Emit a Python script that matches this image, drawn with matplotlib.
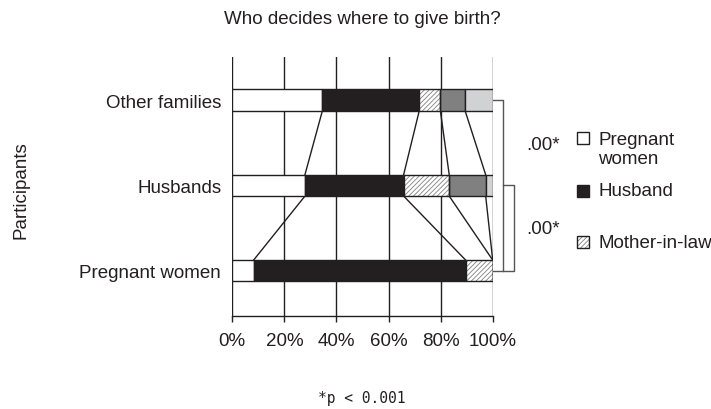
import matplotlib

matplotlib.use("Agg")
import matplotlib.pyplot as plt
import numpy as np
from matplotlib.patches import Rectangle

# who decides, share of answers (%) per participant group, bottom to top
categories = ["Pregnant women", "Husbands", "Other families"]
pregnant_women = [8.2, 27.9, 34.6]
husband = [81.4, 37.9, 37.2]
mother_in_law = [10.4, 17.5, 8.1]
other_dark = [0.0, 14.0, 9.5]
other_light = [0.0, 2.7, 10.6]
xticks = [0, 20, 40, 60, 80, 100]
xtick_labels = ["0%", "20%", "40%", "60%", "80%", "100%"]
legend_labels = ["Pregnant\nwomen", "Husband", "Mother-in-law"]
p_values = [".00*", ".00*"]
footnote = "*p < 0.001"

plt.rcParams["font.family"] = ["Liberation Sans", "DejaVu Sans"]
plt.rcParams["hatch.linewidth"] = 0.6
TXT = "#231f20"
FS = 13.5
HATCH = "///////"

W, H = 711, 410
fig = plt.figure(figsize=(W / 100, H / 100), dpi=100)


def fx(px):
    return px / W


def fy(py):
    return 1 - py / H


ax = fig.add_axes([fx(232.3), fy(316.7), fx(492.7) - fx(232.3), fy(57.7) - fy(316.7)])

y = np.arange(len(categories))
h = 0.25
series = [pregnant_women, husband, mother_in_law, other_dark, other_light]
faces = ["white", "#231f20", "white", "#808080", "#d1d2d4"]
hatches = [None, None, HATCH, None, None]

left = np.zeros(len(categories))
cums = [left.copy()]
for vals, fc, ht in zip(series, faces, hatches):
    vals = np.array(vals)
    if ht:
        ax.barh(y, vals, h, left=left, color="white", edgecolor="#808080", hatch=ht, linewidth=0, zorder=3)
        ax.barh(y, vals, h, left=left, fill=False, edgecolor="#231f20", linewidth=1.0, zorder=4)
    else:
        ax.barh(y, vals, h, left=left, color=fc, edgecolor="#231f20", linewidth=1.0, zorder=3)
    left = left + vals
    cums.append(left.copy())
cums = np.array(cums)

# connector lines between segment boundaries of neighbouring bars
for i in range(1, len(categories)):
    for k in range(1, len(series)):
        ax.plot([cums[k][i], cums[k][i - 1]], [y[i] - h / 2, y[i - 1] + h / 2],
                color="#231f20", lw=1.0, zorder=2)

# significance brackets
bc = "#555555"
xa, xb = 104.1, 108.3
ax.plot([100, xa, xa, 100], [y[2], y[2], y[0], y[0]], color=bc, lw=1.0, clip_on=False)
ax.plot([xa, xb, xb, xa], [y[1], y[1], y[0], y[0]], color=bc, lw=1.0, clip_on=False)

ax.set_xlim(0, 100)
ax.set_ylim(-0.527, 2.508)
ax.set_xticks(xticks)
ax.set_xticklabels(xtick_labels, fontsize=FS, color=TXT)
ax.set_yticks(y)
ax.set_yticklabels(categories, fontsize=FS, color=TXT)
ax.tick_params(axis="y", length=0, pad=8)
ax.tick_params(axis="x", length=4, width=1.0, pad=7.5, color="#231f20")
ax.grid(axis="x", color="#231f20", lw=1.0, zorder=0)
for s in ["top", "right", "left"]:
    ax.spines[s].set_visible(False)
ax.spines["bottom"].set_color("#231f20")
ax.spines["bottom"].set_linewidth(1.0)
ax.set_axisbelow(True)

fig.text(fx(362), fy(19), "Who decides where to give birth?", ha="center", va="center", fontsize=FS, color=TXT)
fig.text(fx(21), fy(190), "Participants", rotation=90, ha="center", va="center", fontsize=FS, color=TXT)
fig.text(fx(362), fy(399), footnote, ha="center", va="center", fontsize=10.5,
         family="DejaVu Sans Mono", color=TXT)

for txt, py in zip(p_values, [145, 230]):
    fig.text(fx(526.7), fy(py), txt, ha="left", va="center", fontsize=FS, color=TXT)

# legend drawn by hand
box_tops = [133.3, 186, 237.3]
box_faces = ["white", "#231f20", "white"]
box_hatch = [None, None, HATCH]
for top, fc, ht in zip(box_tops, box_faces, box_hatch):
    r = Rectangle((fx(577), fy(top + 11.5)), fx(11.5), 11.5 / H, transform=fig.transFigure,
                  facecolor=fc, edgecolor="#808080" if ht else "#231f20", hatch=ht, lw=0 if ht else 1.0)
    fig.add_artist(r)
    if ht:
        fig.add_artist(Rectangle((fx(577), fy(top + 11.5)), fx(11.5), 11.5 / H, transform=fig.transFigure,
                                 fill=False, edgecolor="#231f20", lw=1.0))
fig.text(fx(598), fy(150), legend_labels[0], ha="left", va="center", fontsize=FS, color=TXT,
         linespacing=1.12)
fig.text(fx(598), fy(191.5), legend_labels[1], ha="left", va="center", fontsize=FS, color=TXT)
fig.text(fx(598), fy(243.3), legend_labels[2], ha="left", va="center", fontsize=FS, color=TXT)

fig.savefig("out.png", dpi=100)
